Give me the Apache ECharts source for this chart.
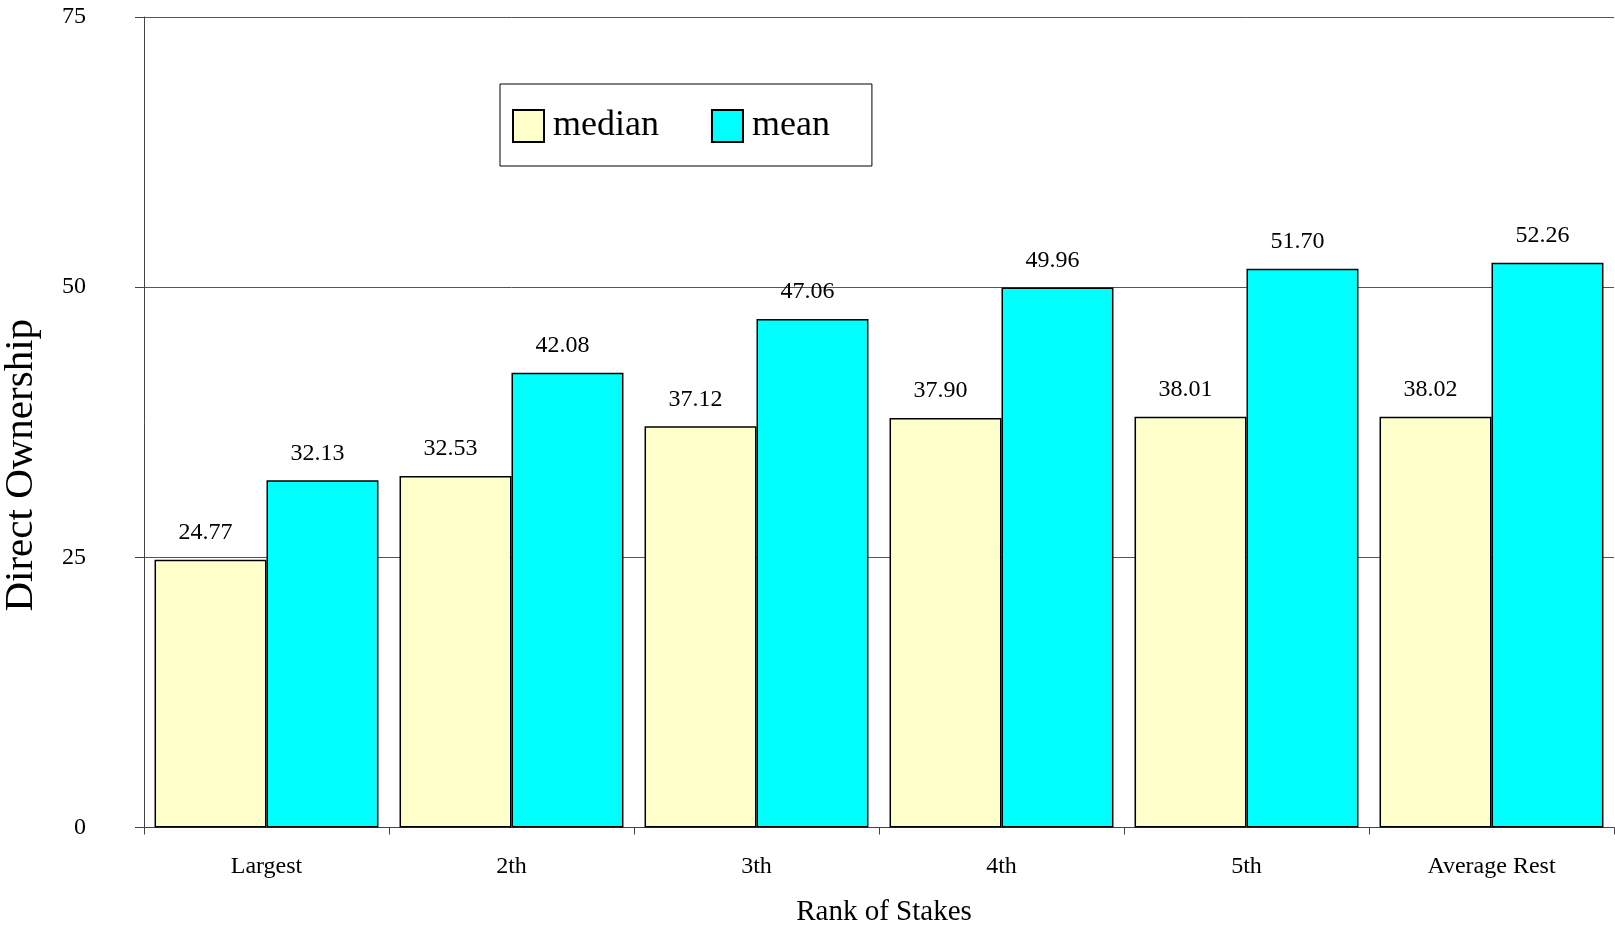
<!DOCTYPE html>
<html>
<head>
<meta charset="utf-8">
<script src="https://cdn.jsdelivr.net/npm/echarts@6/dist/echarts.min.js"></script>
<style>
html,body{margin:0;padding:0;background:#fff;}
#chart{width:1615px;height:932px;}
</style>
</head>
<body>
<div id="chart"></div>
<script>
const categories = ['Largest', '2th', '3th', '4th', '5th', 'Average Rest'];
const medianValues = [24.77, 32.53, 37.12, 37.90, 38.01, 38.02];
const meanValues = [32.13, 42.08, 47.06, 49.96, 51.70, 52.26];
const yTicks = { min: 0, max: 75, interval: 25 };

const FONT = '"Liberation Serif", "Times New Roman", serif';
const chart = echarts.init(document.getElementById('chart'));

const labelCfg = {
  show: true,
  position: 'top',
  distance: 15,
  offset: [-5, 0],
  color: '#000',
  fontFamily: FONT,
  fontSize: 24,
  formatter: p => p.value.toFixed(2)
};

chart.setOption({
  animation: false,
  backgroundColor: '#fff',
  textStyle: { fontFamily: FONT, color: '#000' },
  grid: { left: 144, right: 1, top: 17, bottom: 104.5, containLabel: false, outerBoundsMode: 'none' },
  legend: {
    left: 500, top: 84,
    orient: 'horizontal',
    backgroundColor: '#fff',
    borderColor: '#000', borderWidth: 1,
    padding: [24, 42, 22, 12],
    itemWidth: 31, itemHeight: 32, itemGap: 52,
    icon: 'rect',
    textStyle: { fontFamily: FONT, fontSize: 36, color: '#000', padding: [0, 0, 0, 4] },
    data: ['median', 'mean']
  },
  xAxis: {
    type: 'category',
    data: categories,
    name: 'Rank of Stakes',
    nameLocation: 'middle',
    nameGap: 70,
    nameTextStyle: { fontFamily: FONT, fontSize: 29, color: '#000', padding: [0, 0, 0, 10] },
    axisLine: { show: true, lineStyle: { color: '#444', width: 1 } },
    axisTick: { show: true, length: 7, lineStyle: { color: '#444' } },
    axisLabel: { color: '#000', fontFamily: FONT, fontSize: 24, margin: 27 },
    splitLine: { show: false }
  },
  yAxis: {
    type: 'value',
    min: yTicks.min, max: yTicks.max, interval: yTicks.interval,
    name: 'Direct Ownership',
    nameLocation: 'middle',
    nameGap: 102,
    nameRotate: 90,
    nameTextStyle: { fontFamily: FONT, fontSize: 41, color: '#000', padding: [0, 86, 0, 0] },
    axisLine: { show: true, lineStyle: { color: '#444', width: 1 } },
    axisTick: { show: true, length: 9, lineStyle: { color: '#444' } },
    axisLabel: { color: '#000', fontFamily: FONT, fontSize: 24, margin: 58 },
    splitLine: { show: true, lineStyle: { color: '#555', width: 1 } }
  },
  series: [
    {
      name: 'median', type: 'bar',
      data: medianValues,
      barGap: '0%', barCategoryGap: '8.6%',
      itemStyle: { color: '#FFFFCC', borderColor: '#000', borderWidth: 1.5 },
      label: labelCfg
    },
    {
      name: 'mean', type: 'bar',
      data: meanValues,
      barGap: '0%', barCategoryGap: '8.6%',
      itemStyle: { color: '#00FFFF', borderColor: '#000', borderWidth: 1.5 },
      label: labelCfg
    }
  ]
});
</script>
</body>
</html>
